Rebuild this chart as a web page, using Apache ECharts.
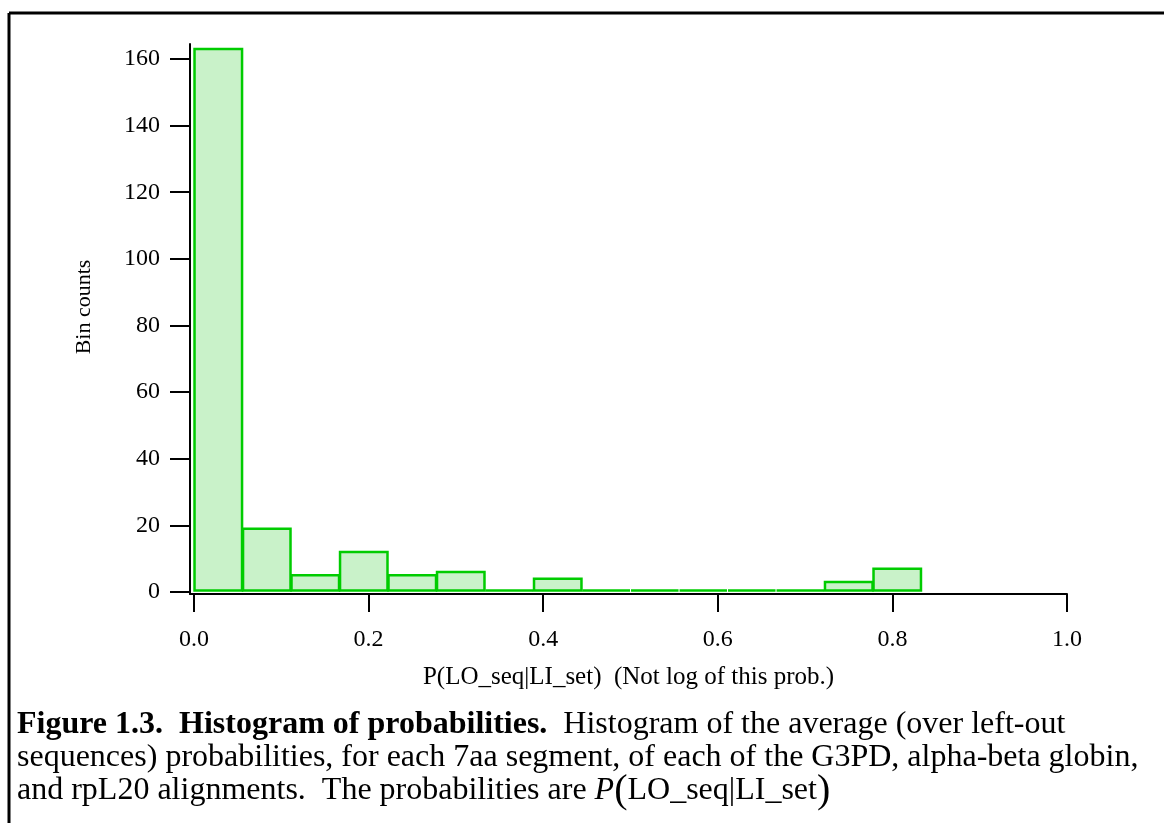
<!DOCTYPE html>
<html>
<head>
<meta charset="utf-8">
<script src="https://cdn.jsdelivr.net/npm/echarts@6/dist/echarts.min.js"></script>
<style>
html,body{margin:0;padding:0;background:#fff;}
#chart{width:1164px;height:823px;}
</style>
</head>
<body>
<div id="chart"></div>
<script>
// Histogram bins (left edges, width 1/18) and counts
const binStarts = [0.0000, 0.0556, 0.1111, 0.1667, 0.2222, 0.2778, 0.3333, 0.3889, 0.4444, 0.5000, 0.5556, 0.6111, 0.6667, 0.7222, 0.7778];
const binEnds   = [0.0556, 0.1111, 0.1667, 0.2222, 0.2778, 0.3333, 0.3889, 0.4444, 0.5000, 0.5556, 0.6111, 0.6667, 0.7222, 0.7778, 0.8333];
const counts    = [163, 19, 5, 12, 5, 6, 0, 4, 0, 0, 0, 0, 0, 3, 7];
const xTicks = [0, 0.2, 0.4, 0.6, 0.8, 1.0];
const yTicks = [0, 20, 40, 60, 80, 100, 120, 140, 160];

const serif = '"Liberation Serif", "Times New Roman", "DejaVu Serif", serif';
const chart = echarts.init(document.getElementById('chart'), null, {renderer: 'canvas'});

const data = binStarts.map((s, i) => [s, binEnds[i], counts[i]]);

const option = {
  animation: false,
  backgroundColor: '#fff',
  grid: {left: 190, right: 97, top: 44, bottom: 229, containLabel: false},
  xAxis: {
    type: 'value', min: -0.0046, max: 1.0,
    splitLine: {show: false},
    axisLine: {show: true, onZero: false, lineStyle: {color: '#000', width: 2}},
    axisTick: {show: true, inside: false, length: 18, lineStyle: {color: '#000', width: 2}, customValues: xTicks},
    axisLabel: {show: true, margin: 34, color: '#000', fontFamily: serif, fontSize: 24,
      customValues: xTicks, formatter: v => v.toFixed(1)},
    name: 'P(LO_seq|LI_set)  (Not log of this prob.)',
    nameLocation: 'middle', nameGap: 71,
    nameTextStyle: {color: '#000', fontFamily: serif, fontSize: 25}
  },
  yAxis: {
    type: 'value', min: -0.6, max: 164.5,
    splitLine: {show: false},
    axisLine: {show: true, onZero: false, lineStyle: {color: '#000', width: 2}},
    axisTick: {show: true, inside: false, length: 20, lineStyle: {color: '#000', width: 2}, customValues: yTicks},
    axisLabel: {show: true, margin: 30, color: '#000', fontFamily: serif, fontSize: 24,
      customValues: yTicks, formatter: v => String(v)},
    name: 'Bin counts', nameLocation: 'middle', nameGap: 95, nameRotate: 90,
    nameTextStyle: {color: '#000', fontFamily: serif, fontSize: 22, padding: [0, 0, 0, 24]}
  },
  series: [{
    type: 'custom',
    clip: false,
    data: data,
    encode: {x: [0, 1], y: 2},
    renderItem: function (params, api) {
      const p0 = api.coord([api.value(0), 0]);
      const p1 = api.coord([api.value(1), api.value(2)]);
      const x = p0[0] + 0.5, w = p1[0] - p0[0] - 1;
      const y = p1[1], h = p0[1] - p1[1];
      if (h < 0.5) {
        return {type: 'line', shape: {x1: x, y1: p0[1] - 1.5, x2: x + w, y2: p0[1] - 1.5},
          style: {stroke: '#00cc00', lineWidth: 2.5}};
      }
      return {type: 'rect', shape: {x: x, y: y, width: w, height: h - 1.5},
        style: {fill: '#c9f2c9', stroke: '#00cc00', lineWidth: 2.5}};
    }
  }],
  graphic: [
    {type: 'line', shape: {x1: 9, y1: 13, x2: 1164, y2: 13}, style: {stroke: '#000', lineWidth: 3}},
    {type: 'line', shape: {x1: 9, y1: 13, x2: 9, y2: 823}, style: {stroke: '#000', lineWidth: 3}},
    {type: 'text', left: 17, top: 709, style: {
      text: '{b|Figure 1.3.  Histogram of probabilities.}  Histogram of the average (over left-out',
      fontFamily: serif, fontSize: 32, fill: '#000',
      rich: {b: {fontFamily: serif, fontSize: 32, fontWeight: 'bold', fill: '#000'}}}},
    {type: 'text', left: 17, top: 742, style: {
      text: 'sequences) probabilities, for each 7aa segment, of each of the G3PD, alpha-beta globin,',
      fontFamily: serif, fontSize: 32, fill: '#000'}},
    {type: 'text', left: 17, top: 771, style: {
      text: 'and rpL20 alignments.  The probabilities are {i|P}{p|(}LO_seq|LI_set{p|)}',
      fontFamily: serif, fontSize: 32, fill: '#000',
      rich: {i: {fontFamily: serif, fontSize: 32, fontStyle: 'italic', fill: '#000'},
             p: {fontFamily: serif, fontSize: 40, fill: '#000'}}}}
  ]
};
chart.setOption(option);
</script>
</body>
</html>
